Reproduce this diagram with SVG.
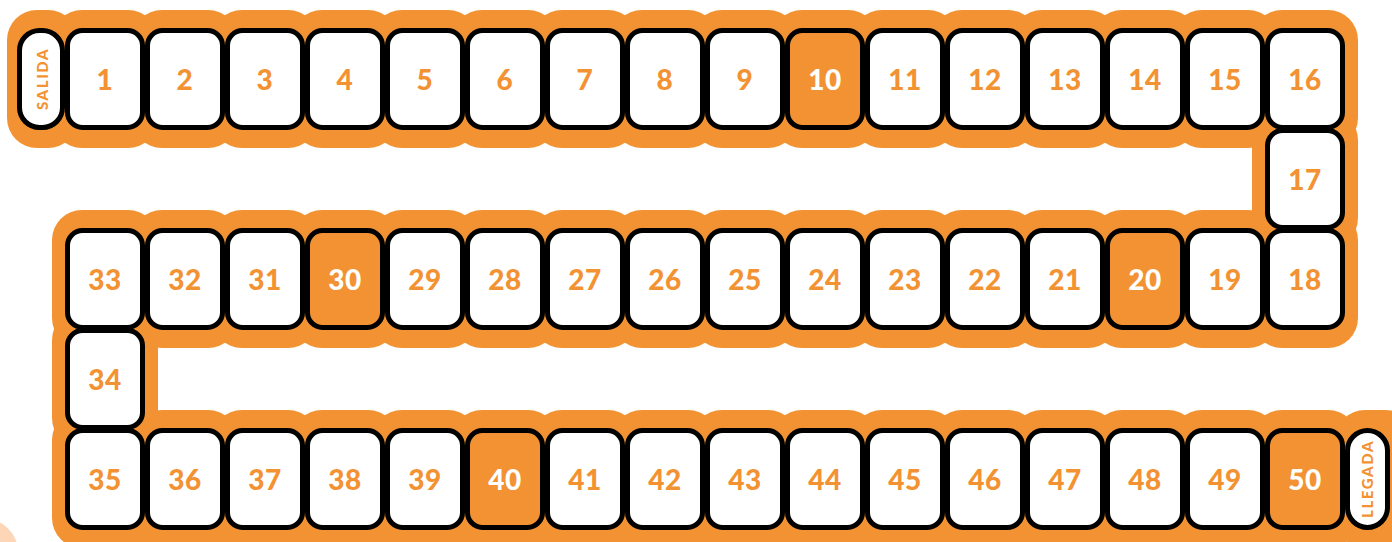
<svg xmlns="http://www.w3.org/2000/svg" width="1392" height="542" viewBox="0 0 1392 542">
<style>
.bg{fill:#F39232}
.cell{fill:#FFFFFF;stroke:#000000;stroke-width:5}
.hotc{fill:#F39232;stroke:#000000;stroke-width:5}
.num{font-family:Lato,"Liberation Sans",sans-serif;font-weight:900;font-size:28px;letter-spacing:0.6px;fill:#F39232;text-anchor:middle}
.hot .num{fill:#FFFFFF}
.lbl{font-family:Lato,"Liberation Sans",sans-serif;font-weight:900;font-size:15px;letter-spacing:1.6px;fill:#F39232;text-anchor:middle}
</style>
<defs>
<rect id="cr" class="cell" x="-37.5" y="-48.5" width="75" height="97" rx="15"/>
<rect id="crh" class="hotc" x="-37.5" y="-48.5" width="75" height="97" rx="15"/>
</defs>
<circle cx="-15" cy="552" r="33" fill="#FCD6B6"/>
<g id="track">
<rect class="bg" x="7" y="10" width="71" height="138" rx="30"/>
<rect class="bg" x="52" y="10" width="106" height="138" rx="30"/>
<rect class="bg" x="132" y="10" width="106" height="138" rx="30"/>
<rect class="bg" x="212" y="10" width="106" height="138" rx="30"/>
<rect class="bg" x="292" y="10" width="106" height="138" rx="30"/>
<rect class="bg" x="372" y="10" width="106" height="138" rx="30"/>
<rect class="bg" x="452" y="10" width="106" height="138" rx="30"/>
<rect class="bg" x="532" y="10" width="106" height="138" rx="30"/>
<rect class="bg" x="612" y="10" width="106" height="138" rx="30"/>
<rect class="bg" x="692" y="10" width="106" height="138" rx="30"/>
<rect class="bg" x="772" y="10" width="106" height="138" rx="30"/>
<rect class="bg" x="852" y="10" width="106" height="138" rx="30"/>
<rect class="bg" x="932" y="10" width="106" height="138" rx="30"/>
<rect class="bg" x="1012" y="10" width="106" height="138" rx="30"/>
<rect class="bg" x="1092" y="10" width="106" height="138" rx="30"/>
<rect class="bg" x="1172" y="10" width="106" height="138" rx="30"/>
<rect class="bg" x="1252" y="10" width="106" height="138" rx="30"/>
<rect class="bg" x="1252" y="110" width="106" height="138" rx="30"/>
<rect class="bg" x="52" y="210" width="106" height="138" rx="30"/>
<rect class="bg" x="132" y="210" width="106" height="138" rx="30"/>
<rect class="bg" x="212" y="210" width="106" height="138" rx="30"/>
<rect class="bg" x="292" y="210" width="106" height="138" rx="30"/>
<rect class="bg" x="372" y="210" width="106" height="138" rx="30"/>
<rect class="bg" x="452" y="210" width="106" height="138" rx="30"/>
<rect class="bg" x="532" y="210" width="106" height="138" rx="30"/>
<rect class="bg" x="612" y="210" width="106" height="138" rx="30"/>
<rect class="bg" x="692" y="210" width="106" height="138" rx="30"/>
<rect class="bg" x="772" y="210" width="106" height="138" rx="30"/>
<rect class="bg" x="852" y="210" width="106" height="138" rx="30"/>
<rect class="bg" x="932" y="210" width="106" height="138" rx="30"/>
<rect class="bg" x="1012" y="210" width="106" height="138" rx="30"/>
<rect class="bg" x="1092" y="210" width="106" height="138" rx="30"/>
<rect class="bg" x="1172" y="210" width="106" height="138" rx="30"/>
<rect class="bg" x="1252" y="210" width="106" height="138" rx="30"/>
<rect class="bg" x="52" y="310" width="106" height="138" rx="30"/>
<rect class="bg" x="52" y="410" width="106" height="138" rx="30"/>
<rect class="bg" x="132" y="410" width="106" height="138" rx="30"/>
<rect class="bg" x="212" y="410" width="106" height="138" rx="30"/>
<rect class="bg" x="292" y="410" width="106" height="138" rx="30"/>
<rect class="bg" x="372" y="410" width="106" height="138" rx="30"/>
<rect class="bg" x="452" y="410" width="106" height="138" rx="30"/>
<rect class="bg" x="532" y="410" width="106" height="138" rx="30"/>
<rect class="bg" x="612" y="410" width="106" height="138" rx="30"/>
<rect class="bg" x="692" y="410" width="106" height="138" rx="30"/>
<rect class="bg" x="772" y="410" width="106" height="138" rx="30"/>
<rect class="bg" x="852" y="410" width="106" height="138" rx="30"/>
<rect class="bg" x="932" y="410" width="106" height="138" rx="30"/>
<rect class="bg" x="1012" y="410" width="106" height="138" rx="30"/>
<rect class="bg" x="1092" y="410" width="106" height="138" rx="30"/>
<rect class="bg" x="1172" y="410" width="106" height="138" rx="30"/>
<rect class="bg" x="1252" y="410" width="106" height="138" rx="30"/>
<rect class="bg" x="1335" y="410" width="80" height="138" rx="30"/>
</g>
<g id="salida"><rect class="cell" x="19.5" y="30.5" width="43" height="97" rx="20"/><text class="lbl" transform="translate(47.5,79) rotate(-90)">SALIDA</text></g>
<g id="c1" transform="translate(105,79)"><use href="#cr"/><text class="num" y="11">1</text></g>
<g id="c2" transform="translate(185,79)"><use href="#cr"/><text class="num" y="11">2</text></g>
<g id="c3" transform="translate(265,79)"><use href="#cr"/><text class="num" y="11">3</text></g>
<g id="c4" transform="translate(345,79)"><use href="#cr"/><text class="num" y="11">4</text></g>
<g id="c5" transform="translate(425,79)"><use href="#cr"/><text class="num" y="11">5</text></g>
<g id="c6" transform="translate(505,79)"><use href="#cr"/><text class="num" y="11">6</text></g>
<g id="c7" transform="translate(585,79)"><use href="#cr"/><text class="num" y="11">7</text></g>
<g id="c8" transform="translate(665,79)"><use href="#cr"/><text class="num" y="11">8</text></g>
<g id="c9" transform="translate(745,79)"><use href="#cr"/><text class="num" y="11">9</text></g>
<g id="c10" class="hot" transform="translate(825,79)"><use href="#crh"/><text class="num" y="11">10</text></g>
<g id="c11" transform="translate(905,79)"><use href="#cr"/><text class="num" y="11">11</text></g>
<g id="c12" transform="translate(985,79)"><use href="#cr"/><text class="num" y="11">12</text></g>
<g id="c13" transform="translate(1065,79)"><use href="#cr"/><text class="num" y="11">13</text></g>
<g id="c14" transform="translate(1145,79)"><use href="#cr"/><text class="num" y="11">14</text></g>
<g id="c15" transform="translate(1225,79)"><use href="#cr"/><text class="num" y="11">15</text></g>
<g id="c16" transform="translate(1305,79)"><use href="#cr"/><text class="num" y="11">16</text></g>
<g id="c17" transform="translate(1305,179)"><use href="#cr"/><text class="num" y="11">17</text></g>
<g id="c18" transform="translate(1305,279)"><use href="#cr"/><text class="num" y="11">18</text></g>
<g id="c19" transform="translate(1225,279)"><use href="#cr"/><text class="num" y="11">19</text></g>
<g id="c20" class="hot" transform="translate(1145,279)"><use href="#crh"/><text class="num" y="11">20</text></g>
<g id="c21" transform="translate(1065,279)"><use href="#cr"/><text class="num" y="11">21</text></g>
<g id="c22" transform="translate(985,279)"><use href="#cr"/><text class="num" y="11">22</text></g>
<g id="c23" transform="translate(905,279)"><use href="#cr"/><text class="num" y="11">23</text></g>
<g id="c24" transform="translate(825,279)"><use href="#cr"/><text class="num" y="11">24</text></g>
<g id="c25" transform="translate(745,279)"><use href="#cr"/><text class="num" y="11">25</text></g>
<g id="c26" transform="translate(665,279)"><use href="#cr"/><text class="num" y="11">26</text></g>
<g id="c27" transform="translate(585,279)"><use href="#cr"/><text class="num" y="11">27</text></g>
<g id="c28" transform="translate(505,279)"><use href="#cr"/><text class="num" y="11">28</text></g>
<g id="c29" transform="translate(425,279)"><use href="#cr"/><text class="num" y="11">29</text></g>
<g id="c30" class="hot" transform="translate(345,279)"><use href="#crh"/><text class="num" y="11">30</text></g>
<g id="c31" transform="translate(265,279)"><use href="#cr"/><text class="num" y="11">31</text></g>
<g id="c32" transform="translate(185,279)"><use href="#cr"/><text class="num" y="11">32</text></g>
<g id="c33" transform="translate(105,279)"><use href="#cr"/><text class="num" y="11">33</text></g>
<g id="c34" transform="translate(105,379)"><use href="#cr"/><text class="num" y="11">34</text></g>
<g id="c35" transform="translate(105,479)"><use href="#cr"/><text class="num" y="11">35</text></g>
<g id="c36" transform="translate(185,479)"><use href="#cr"/><text class="num" y="11">36</text></g>
<g id="c37" transform="translate(265,479)"><use href="#cr"/><text class="num" y="11">37</text></g>
<g id="c38" transform="translate(345,479)"><use href="#cr"/><text class="num" y="11">38</text></g>
<g id="c39" transform="translate(425,479)"><use href="#cr"/><text class="num" y="11">39</text></g>
<g id="c40" class="hot" transform="translate(505,479)"><use href="#crh"/><text class="num" y="11">40</text></g>
<g id="c41" transform="translate(585,479)"><use href="#cr"/><text class="num" y="11">41</text></g>
<g id="c42" transform="translate(665,479)"><use href="#cr"/><text class="num" y="11">42</text></g>
<g id="c43" transform="translate(745,479)"><use href="#cr"/><text class="num" y="11">43</text></g>
<g id="c44" transform="translate(825,479)"><use href="#cr"/><text class="num" y="11">44</text></g>
<g id="c45" transform="translate(905,479)"><use href="#cr"/><text class="num" y="11">45</text></g>
<g id="c46" transform="translate(985,479)"><use href="#cr"/><text class="num" y="11">46</text></g>
<g id="c47" transform="translate(1065,479)"><use href="#cr"/><text class="num" y="11">47</text></g>
<g id="c48" transform="translate(1145,479)"><use href="#cr"/><text class="num" y="11">48</text></g>
<g id="c49" transform="translate(1225,479)"><use href="#cr"/><text class="num" y="11">49</text></g>
<g id="c50" class="hot" transform="translate(1305,479)"><use href="#crh"/><text class="num" y="11">50</text></g>
<g id="llegada"><rect class="cell" x="1347.5" y="430.5" width="40" height="97" rx="20"/><text class="lbl" transform="translate(1373,479) rotate(-90)">LLEGADA</text></g>
</svg>
